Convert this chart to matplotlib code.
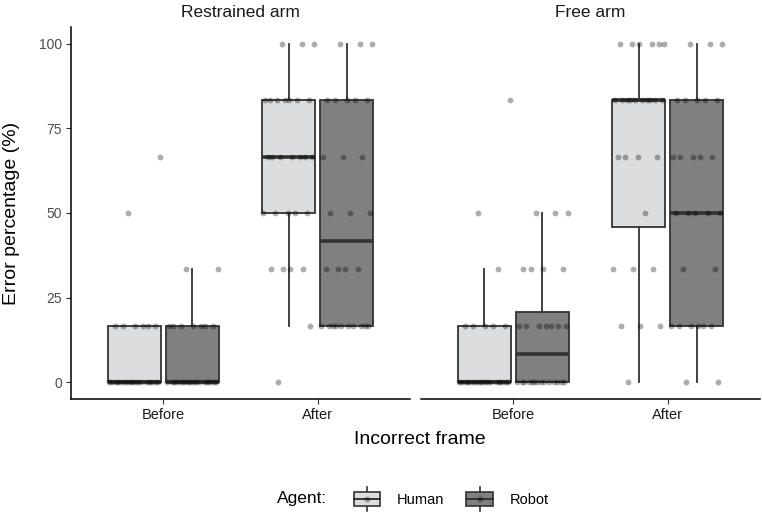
import numpy as np
import matplotlib
matplotlib.use("Agg")
import matplotlib.pyplot as plt
from matplotlib.legend_handler import HandlerBase
from matplotlib.patches import Rectangle, Patch
from matplotlib.lines import Line2D

plt.rcParams['font.family'] = ['Liberation Sans', 'DejaVu Sans']

# ---------------- data ----------------
panels = ["Restrained arm", "Free arm"]
frames = ["Before", "After"]
agents = ["Human", "Robot"]
# possible error percentages (one participant = one point)
levels = [0.0, 16.67, 33.33, 50.0, 66.67, 83.33, 100.0]
# number of participants at each level
restrained_before_human = [20, 6, 0, 1, 1, 0, 0]
restrained_before_robot = [19, 7, 2, 0, 0, 0, 0]
restrained_after_human = [1, 1, 4, 5, 7, 7, 3]
restrained_after_robot = [0, 10, 4, 3, 3, 5, 3]
free_before_human = [20, 5, 1, 1, 0, 1, 0]
free_before_robot = [14, 7, 4, 3, 0, 0, 0]
free_after_human = [1, 3, 3, 1, 4, 10, 6]
free_after_robot = [2, 6, 2, 5, 5, 5, 3]

counts = {
    ("Restrained arm", "Before", "Human"): restrained_before_human,
    ("Restrained arm", "Before", "Robot"): restrained_before_robot,
    ("Restrained arm", "After", "Human"): restrained_after_human,
    ("Restrained arm", "After", "Robot"): restrained_after_robot,
    ("Free arm", "Before", "Human"): free_before_human,
    ("Free arm", "Before", "Robot"): free_before_robot,
    ("Free arm", "After", "Human"): free_after_human,
    ("Free arm", "After", "Robot"): free_after_robot,
}

# ---------------- style ----------------
fills = {"Human": "#dcdddf", "Robot": "#808080"}
edge = "#333333"
dodge = {"Human": -0.188, "Robot": 0.188}
box_w = 0.344

W, H = 762, 515
fig = plt.figure(figsize=(W / 100, H / 100), dpi=100)
ax_l = fig.add_axes([71 / W, 1 - 399 / H, 339 / W, 372 / H])
ax_r = fig.add_axes([421 / W, 1 - 399 / H, 339 / W, 372 / H])
axes = [ax_l, ax_r]

golden = 0.6180339887

for ax, panel in zip(axes, panels):
    for fi, frame in enumerate(frames):
        for agent in agents:
            vals = np.repeat(levels, counts[(panel, frame, agent)])
            pos = fi + dodge[agent]
            ax.boxplot([vals], positions=[pos], widths=box_w, patch_artist=True,
                       showfliers=False, whis=1.49, showcaps=False,
                       boxprops=dict(facecolor=fills[agent], edgecolor=edge, linewidth=1.3),
                       whiskerprops=dict(color=edge, linewidth=1.3),
                       medianprops=dict(color=edge, linewidth=2.6, solid_capstyle='butt'),
                       zorder=2)
            idx = np.arange(len(vals))
            jit = ((idx * golden + 0.3) % 1.0 - 0.5) * box_w * 0.98
            ax.plot(pos + jit, vals, 'o', color='black', alpha=0.32,
                    markersize=4.2, markeredgewidth=0, zorder=3)

    ax.set_xlim(-0.6, 1.6)
    ax.set_ylim(-5, 105)
    ax.set_xticks([0, 1])
    ax.set_xticklabels(frames, fontsize=10.5, color='#1a1a1a')
    ax.spines['top'].set_visible(False)
    ax.spines['right'].set_visible(False)
    ax.spines['bottom'].set_linewidth(1.1)
    ax.spines['left'].set_linewidth(1.1)
    ax.tick_params(axis='both', length=3.5, width=0.8, color='#333333', pad=3)
    ax.text(0.5, 1.04, panel, transform=ax.transAxes, ha='center', va='center',
            fontsize=12.5, color='#1a1a1a')

ax_l.set_yticks([0, 25, 50, 75, 100])
ax_l.set_yticklabels(["0", "25", "50", "75", "100"], fontsize=10, color='#4d4d4d')
ax_r.spines['left'].set_visible(False)
ax_r.set_yticks([])

fig.text(12 / W, 1 - 213 / H, "Error percentage (%)", rotation=90, ha='center',
         va='center', fontsize=14, color='black')
fig.text(420 / W, 1 - 439 / H, "Incorrect frame", ha='center', va='center',
         fontsize=14, color='black')


class BoxKey(HandlerBase):
    def create_artists(self, legend, orig_handle, xdescent, ydescent, width,
                       height, fontsize, trans):
        fc = orig_handle.get_facecolor()
        x0, y0 = -xdescent, -ydescent
        cx, cy = x0 + width / 2, y0 + height / 2
        bw, bh = width * 0.95, height * 0.72
        whisk = Line2D([cx, cx], [y0 - height * 0.1, y0 + height * 1.1],
                       color=edge, lw=1.2, transform=trans)
        rect = Rectangle((cx - bw / 2, cy - bh / 2), bw, bh, facecolor=fc,
                         edgecolor=edge, lw=1.2, transform=trans)
        med = Line2D([cx - bw / 2, cx + bw / 2], [cy, cy], color=edge, lw=1.4,
                     transform=trans)
        dot = Line2D([cx], [cy], marker='o', markersize=4.2, color='black',
                     alpha=0.32, markeredgewidth=0, linestyle='none', transform=trans)
        return [whisk, rect, med, dot]


handles = [Patch(facecolor=fills[a], edgecolor=edge) for a in agents]
leg = fig.legend(handles, agents, loc='center', bbox_to_anchor=(451 / W, 1 - 499 / H),
                 ncol=2, frameon=False, fontsize=10.5, handlelength=1.9,
                 handleheight=1.75, handletextpad=1.1, columnspacing=1.45,
                 handler_map={Patch: BoxKey()})
fig.text(277 / W, 1 - 499 / H, "Agent:", ha='left', va='center', fontsize=12.5,
         color='black')

fig.savefig("out.png", dpi=100)
